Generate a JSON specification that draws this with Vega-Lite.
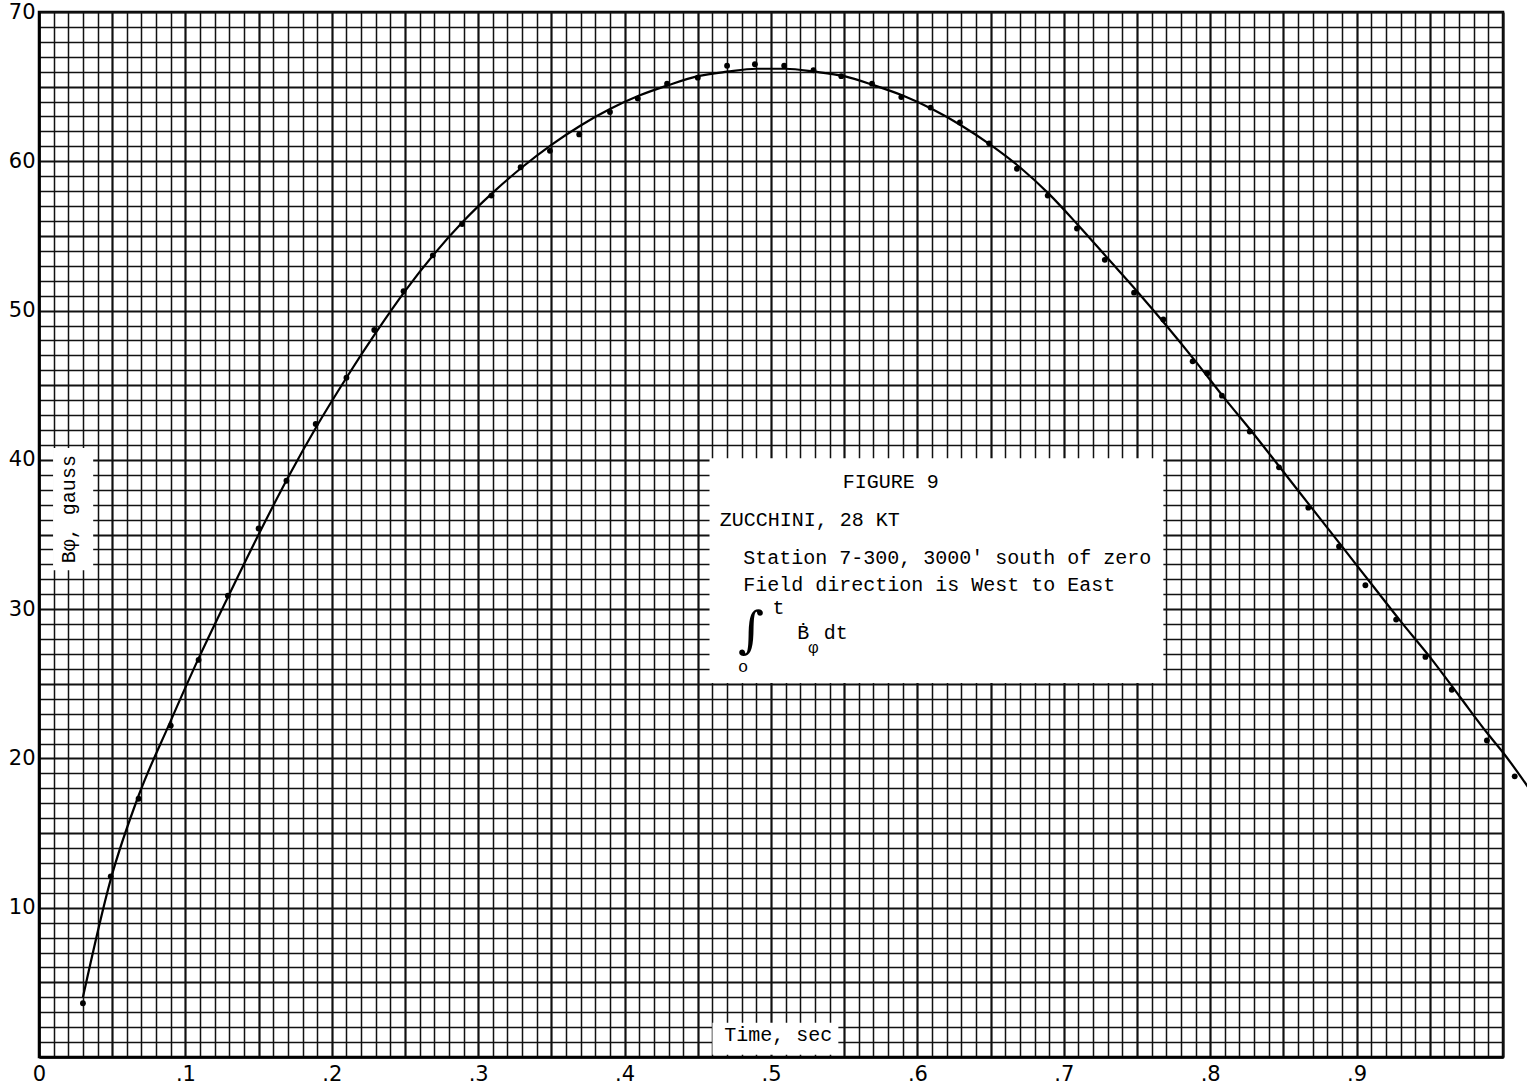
{
  "$schema": "https://vega.github.io/schema/vega-lite/v6.json",
  "width": 1464,
  "height": 1045,
  "autosize": {"type": "none"},
  "padding": {"left": 39, "top": 12, "right": 24, "bottom": 33},
  "background": "white",
  "config": {
    "view": {"stroke": "#000", "strokeWidth": 2.5},
    "axis": {"labelFont": "DejaVu Sans", "labelFontSize": 21, "labelColor": "#000", "ticks": false, "labelOverlap": false, "labelFlush": false, "domainColor": "#000", "domainWidth": 2.5, "gridColor": "#111", "gridOpacity": 1}
  },
  "datasets": {
    "points": [
      {"t": 0.030, "v": 3.6}, {"t": 0.049, "v": 12.1}, {"t": 0.068, "v": 17.3}, {"t": 0.090, "v": 22.2},
      {"t": 0.109, "v": 26.6}, {"t": 0.129, "v": 30.9}, {"t": 0.150, "v": 35.4}, {"t": 0.169, "v": 38.6},
      {"t": 0.189, "v": 42.4}, {"t": 0.210, "v": 45.5}, {"t": 0.229, "v": 48.7}, {"t": 0.249, "v": 51.3},
      {"t": 0.269, "v": 53.7}, {"t": 0.289, "v": 55.8}, {"t": 0.309, "v": 57.7}, {"t": 0.329, "v": 59.6},
      {"t": 0.349, "v": 60.7}, {"t": 0.369, "v": 61.8}, {"t": 0.390, "v": 63.3}, {"t": 0.409, "v": 64.2},
      {"t": 0.429, "v": 65.2}, {"t": 0.450, "v": 65.6}, {"t": 0.470, "v": 66.4}, {"t": 0.489, "v": 66.5},
      {"t": 0.509, "v": 66.4}, {"t": 0.529, "v": 66.1}, {"t": 0.548, "v": 65.7}, {"t": 0.569, "v": 65.2},
      {"t": 0.589, "v": 64.3}, {"t": 0.609, "v": 63.6}, {"t": 0.629, "v": 62.6}, {"t": 0.649, "v": 61.2},
      {"t": 0.668, "v": 59.5}, {"t": 0.689, "v": 57.7}, {"t": 0.709, "v": 55.5}, {"t": 0.728, "v": 53.4},
      {"t": 0.748, "v": 51.2}, {"t": 0.768, "v": 49.4}, {"t": 0.788, "v": 46.6}, {"t": 0.798, "v": 45.8},
      {"t": 0.808, "v": 44.3}, {"t": 0.827, "v": 41.9}, {"t": 0.847, "v": 39.5}, {"t": 0.867, "v": 36.8},
      {"t": 0.888, "v": 34.2}, {"t": 0.906, "v": 31.6}, {"t": 0.927, "v": 29.3}, {"t": 0.947, "v": 26.8},
      {"t": 0.965, "v": 24.6}, {"t": 0.989, "v": 21.2}, {"t": 1.008, "v": 18.8}
    ],
    "curve": [
      {"t": 0.030, "v": 4.0}, {"t": 0.049, "v": 11.9}, {"t": 0.068, "v": 17.5}, {"t": 0.089, "v": 22.3},
      {"t": 0.109, "v": 26.7}, {"t": 0.129, "v": 30.8}, {"t": 0.150, "v": 35.0}, {"t": 0.170, "v": 38.8},
      {"t": 0.190, "v": 42.3}, {"t": 0.210, "v": 45.5}, {"t": 0.230, "v": 48.5}, {"t": 0.250, "v": 51.3},
      {"t": 0.270, "v": 53.8}, {"t": 0.290, "v": 56.0}, {"t": 0.310, "v": 57.9}, {"t": 0.330, "v": 59.6},
      {"t": 0.350, "v": 61.1}, {"t": 0.370, "v": 62.4}, {"t": 0.390, "v": 63.5}, {"t": 0.410, "v": 64.4},
      {"t": 0.430, "v": 65.1}, {"t": 0.450, "v": 65.7}, {"t": 0.470, "v": 66.0}, {"t": 0.490, "v": 66.2},
      {"t": 0.510, "v": 66.2}, {"t": 0.530, "v": 66.0}, {"t": 0.550, "v": 65.7}, {"t": 0.570, "v": 65.1},
      {"t": 0.590, "v": 64.4}, {"t": 0.610, "v": 63.5}, {"t": 0.630, "v": 62.4}, {"t": 0.650, "v": 61.1},
      {"t": 0.670, "v": 59.6}, {"t": 0.690, "v": 57.8}, {"t": 0.710, "v": 55.7}, {"t": 0.730, "v": 53.5},
      {"t": 0.750, "v": 51.3}, {"t": 0.770, "v": 49.0}, {"t": 0.790, "v": 46.6}, {"t": 0.810, "v": 44.1},
      {"t": 0.830, "v": 41.7}, {"t": 0.850, "v": 39.2}, {"t": 0.870, "v": 36.7}, {"t": 0.890, "v": 34.2},
      {"t": 0.910, "v": 31.7}, {"t": 0.930, "v": 29.2}, {"t": 0.950, "v": 26.8}, {"t": 0.970, "v": 24.2},
      {"t": 0.990, "v": 21.6}, {"t": 1.000, "v": 20.4}, {"t": 1.017, "v": 18.1}
    ],
    "boxes": [
      {"t1": 0.458, "t2": 0.768, "v1": 25.05, "v2": 40.1},
      {"t1": 0.0096, "t2": 0.037, "v1": 32.6, "v2": 40.8},
      {"t1": 0.460, "t2": 0.546, "v1": 0.15, "v2": 2.3}
    ],
    "labels": [
      {"t": 0.549, "v": 38.5, "text": "FIGURE 9"},
      {"t": 0.465, "v": 36.0, "text": "ZUCCHINI, 28 KT"},
      {"t": 0.481, "v": 33.4, "text": "Station 7-300, 3000' south of zero"},
      {"t": 0.481, "v": 31.6, "text": "Field direction is West to East"},
      {"t": 0.501, "v": 30.1, "text": "t"},
      {"t": 0.518, "v": 28.4, "text": "Ḃ"},
      {"t": 0.536, "v": 28.4, "text": "dt"},
      {"t": 0.468, "v": 1.47, "text": "Time, sec"}
    ],
    "small": [
      {"t": 0.5255, "v": 27.4, "text": "φ"},
      {"t": 0.4775, "v": 26.1, "text": "o"}
    ],
    "integral": [
      {"t": 0.4865, "v": 28.5, "text": "∫"}
    ],
    "ylabel": [
      {"t": 0.0205, "v": 36.7, "text": "Bφ, gauss"}
    ]
  },
  "layer": [
    {
      "data": {"name": "boxes"},
      "mark": {"type": "rect", "fill": "white", "stroke": null},
      "encoding": {
        "x": {"field": "t1", "type": "quantitative", "title": null,
          "scale": {"domain": [0, 1], "nice": false, "zero": false},
          "axis": {
            "values": [0,0.01,0.02,0.03,0.04,0.05,0.06,0.07,0.08,0.09,0.1,0.11,0.12,0.13,0.14,0.15,0.16,0.17,0.18,0.19,0.2,0.21,0.22,0.23,0.24,0.25,0.26,0.27,0.28,0.29,0.3,0.31,0.32,0.33,0.34,0.35,0.36,0.37,0.38,0.39,0.4,0.41,0.42,0.43,0.44,0.45,0.46,0.47,0.48,0.49,0.5,0.51,0.52,0.53,0.54,0.55,0.56,0.57,0.58,0.59,0.6,0.61,0.62,0.63,0.64,0.65,0.66,0.67,0.68,0.69,0.7,0.71,0.72,0.73,0.74,0.75,0.76,0.77,0.78,0.79,0.8,0.81,0.82,0.83,0.84,0.85,0.86,0.87,0.88,0.89,0.9,0.91,0.92,0.93,0.94,0.95,0.96,0.97,0.98,0.99,1],
            "tickCount": 500,
            "grid": true,
            "gridWidth": {"condition": {"test": "abs(datum.value*20 - round(datum.value*20)) < 0.001", "value": 2.2}, "value": 1.5},
            "labelExpr": "abs(datum.value*10 - round(datum.value*10)) < 0.001 && datum.value < 0.99 ? (datum.value < 0.001 ? '0' : '.' + round(datum.value*10)) : ''",
            "labelPadding": 6
          }
        },
        "x2": {"field": "t2"},
        "y": {"field": "v1", "type": "quantitative", "title": null,
          "scale": {"domain": [0, 70], "nice": false, "zero": false},
          "axis": {
            "values": [0,1,2,3,4,5,6,7,8,9,10,11,12,13,14,15,16,17,18,19,20,21,22,23,24,25,26,27,28,29,30,31,32,33,34,35,36,37,38,39,40,41,42,43,44,45,46,47,48,49,50,51,52,53,54,55,56,57,58,59,60,61,62,63,64,65,66,67,68,69,70],
            "tickCount": 500,
            "grid": true,
            "gridWidth": {"condition": {"test": "datum.value % 5 == 0", "value": 2.2}, "value": 1.5},
            "labelExpr": "datum.value % 10 == 0 && datum.value > 0 ? format(datum.value, 'd') : ''",
            "labelPadding": 4
          }
        },
        "y2": {"field": "v2"}
      }
    },
    {
      "data": {"name": "curve"},
      "mark": {"type": "line", "interpolate": "monotone", "color": "#000", "strokeWidth": 2.2, "clip": false},
      "encoding": {
        "x": {"field": "t", "type": "quantitative", "title": null},
        "y": {"field": "v", "type": "quantitative", "title": null}
      }
    },
    {
      "data": {"name": "points"},
      "mark": {"type": "point", "filled": true, "color": "#000", "size": 34, "opacity": 1, "clip": false},
      "encoding": {
        "x": {"field": "t", "type": "quantitative", "title": null},
        "y": {"field": "v", "type": "quantitative", "title": null}
      }
    },
    {
      "data": {"name": "labels"},
      "mark": {"type": "text", "font": "Liberation Mono", "fontSize": 20, "align": "left", "baseline": "middle", "color": "#000"},
      "encoding": {
        "x": {"field": "t", "type": "quantitative", "title": null},
        "y": {"field": "v", "type": "quantitative", "title": null},
        "text": {"field": "text"}
      }
    },
    {
      "data": {"name": "small"},
      "mark": {"type": "text", "font": "Liberation Mono", "fontSize": 17, "align": "left", "baseline": "middle", "color": "#000"},
      "encoding": {
        "x": {"field": "t", "type": "quantitative", "title": null},
        "y": {"field": "v", "type": "quantitative", "title": null},
        "text": {"field": "text"}
      }
    },
    {
      "data": {"name": "integral"},
      "mark": {"type": "text", "font": "DejaVu Serif", "fontSize": 50, "align": "center", "baseline": "middle", "color": "#000"},
      "encoding": {
        "x": {"field": "t", "type": "quantitative", "title": null},
        "y": {"field": "v", "type": "quantitative", "title": null},
        "text": {"field": "text"}
      }
    },
    {
      "data": {"name": "ylabel"},
      "mark": {"type": "text", "font": "Liberation Mono", "fontSize": 20, "align": "center", "baseline": "middle", "angle": 270, "color": "#000"},
      "encoding": {
        "x": {"field": "t", "type": "quantitative", "title": null},
        "y": {"field": "v", "type": "quantitative", "title": null},
        "text": {"field": "text"}
      }
    }
  ]
}
